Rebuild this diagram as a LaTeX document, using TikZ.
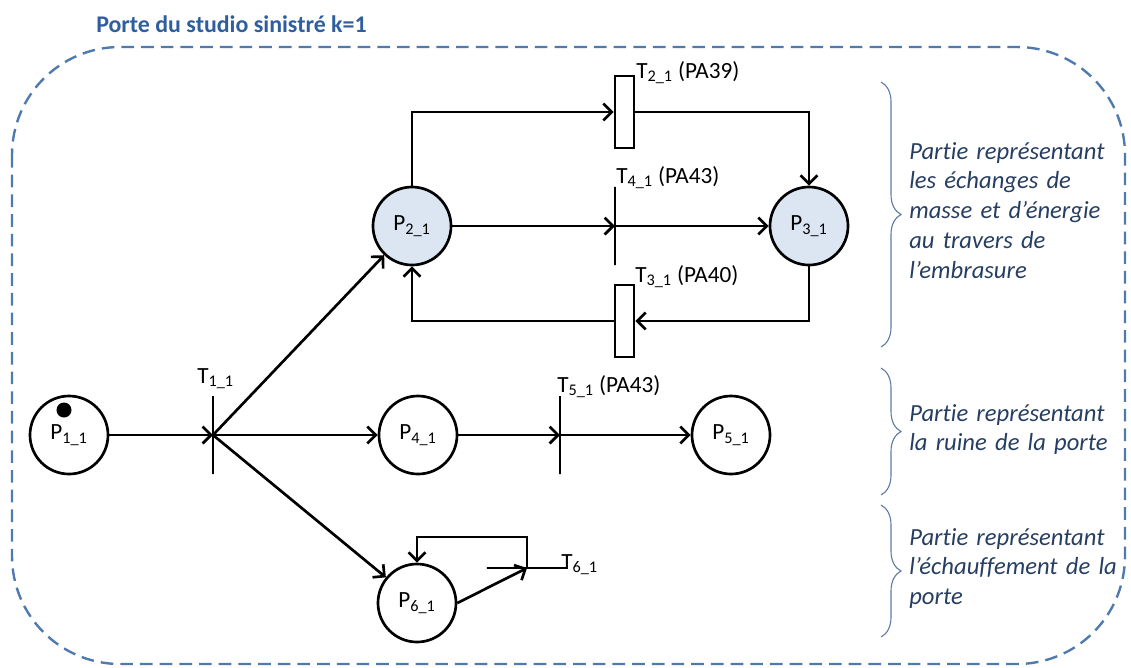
\documentclass[tikz,border=0pt]{standalone}
\usepackage{fontspec}
\setmainfont{Carlito}[Ligatures=NoCommon]
\usepackage{xcolor}
\usetikzlibrary{positioning, calc, arrows.meta, decorations.pathreplacing}

\definecolor{frameblue}{RGB}{79,122,174}
\definecolor{titleblue}{RGB}{47,94,158}
\definecolor{placefill}{RGB}{220,230,242}
\definecolor{notecol}{RGB}{38,62,98}
\definecolor{bracecol}{RGB}{95,125,165}

\newcommand{\lblfont}{\fontsize{16.5}{19}\selectfont}
\newcommand{\notefont}{\fontsize{17.5}{21.3}\selectfont\itshape}
\newcommand{\ix}[1]{\textsubscript{#1}}

\begin{document}
\begin{tikzpicture}[x=0.025cm,y=-0.025cm,>={Straight Barb[length=6pt,width=12pt]},
    place/.style={circle,draw,line width=1.9pt,minimum size=1.95cm,inner sep=0pt,font=\lblfont},
    fplace/.style={place,fill=placefill},
    vbar/.style={draw,line width=1.9pt,inner sep=0pt,minimum width=0pt,minimum height=1.95cm},
    hbar/.style={draw,line width=1.9pt,inner sep=0pt,minimum width=2cm,minimum height=0pt},
    tbox/.style={draw,fill=white,line width=1.9pt,inner sep=0pt,minimum width=0.475cm,minimum height=1.8cm},
    flow/.style={->,line width=1.9pt},
    tlabel/.style={anchor=base west,inner sep=0pt,font=\lblfont},
    note/.style={anchor=base west,inner sep=0pt,text width=5.6cm,align=left,font=\notefont,text=notecol},
    grp/.style={draw=bracecol,line width=0.8pt,decorate,decoration={brace,amplitude=0.5cm}}]

    \useasboundingbox (0,0) rectangle (1131,667);

    % Frame and title
    \draw[frameblue, line width=1.7pt, dash pattern=on 9pt off 5pt, rounded corners=2.7cm]
        (12,47) rectangle (1125,664);
    \node[anchor=base west,inner sep=0pt,text=titleblue,font=\fontsize{17}{20}\selectfont\bfseries]
        (title) at (96,32) {Porte du studio sinistré k=1};

    % Places
    \node[place]  (p11) at (69,435)  {P\ix{1\_1}};
    \node[fill,circle,inner sep=0pt,minimum size=0.375cm] (tok) at (64,410) {};
    \node[fplace] (p21) at (412,226) {P\ix{2\_1}};
    \node[fplace] (p31) at (809,226) {P\ix{3\_1}};
    \node[place]  (p41) at (418,435) {P\ix{4\_1}};
    \node[place]  (p51) at (731,435) {P\ix{5\_1}};
    \node[place]  (p61) at (417,603) {P\ix{6\_1}};

    % Transitions
    \node[vbar] (t11) at (213,435) {};
    \node[tbox] (t21) at (624.5,112) {};
    \node[tbox] (t31) at (624.5,321) {};
    \node[vbar] (t41) at (615,226) {};
    \node[vbar] (t51) at (560,435) {};
    \node[hbar] (t61) at (527,568) {};

    % Transition labels
    \node[tlabel] (l11) at (197,383) {T\ix{1\_1}};
    \node[tlabel] (l21) at (636,78)  {T\ix{2\_1} (PA39)};
    \node[tlabel] (l31) at (635,282) {T\ix{3\_1} (PA40)};
    \node[tlabel] (l41) at (616,183) {T\ix{4\_1} (PA43)};
    \node[tlabel] (l51) at (557,392) {T\ix{5\_1} (PA43)};
    \node[tlabel] (l61) at (561,569) {T\ix{6\_1}};

    % Arcs
    \draw[flow] (p11) -- (t11.center);
    \draw[flow] (t11.center) -- (p21);
    \draw[flow] (t11.center) -- (p41);
    \draw[flow] (t11.center) -- (p61);
    \draw[flow] (p21.north) |- (t21.west);
    \draw[flow] (t21.east) -| (p31.north);
    \draw[flow] (p21) -- (t41.center);
    \draw[flow] (t41.center) -- (p31);
    \draw[flow] (p31.south) |- (t31.east);
    \draw[flow] (t31.west) -| (p21.south);
    \draw[flow] (p41) -- (t51.center);
    \draw[flow] (t51.center) -- (p51);
    \draw[flow] (p61.east) -- (t61.center);
    \draw[flow] (t61.center) -- ++(0,-31) -| (p61.north);

    % Braces and notes
    \draw[grp] (881,82) -- (881,347);
    \draw[grp] (881,368) -- (881,495);
    \draw[grp] (881,505) -- (881,637);
    \node[note] (n1) at (909,159) {Partie représentant\\les échanges de\\masse et d’énergie\\au travers de\\l’embrasure};
    \node[note] (n2) at (909,421) {Partie représentant\\la ruine de la porte};
    \node[note] (n3) at (909,545) {Partie représentant\\l’échauffement de la\\porte};

\end{tikzpicture}
\end{document}
